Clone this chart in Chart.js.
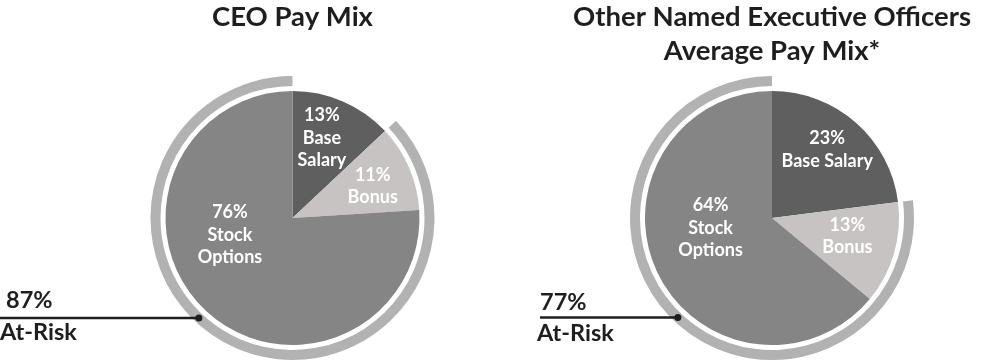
<!DOCTYPE html>
<html lang="en">
<head>
  <meta charset="UTF-8" />
  <title>Pay Mix</title>
  <script src="https://cdn.jsdelivr.net/npm/chart.js"></script>
  <style>
    html, body { margin: 0; padding: 0; background: #fff; }
    body { width: 982px; height: 362px; position: relative; overflow: hidden; }
    .box { position: absolute; top: 0; height: 362px; }
  </style>
</head>
<body>
  <div class="box" style="left:0;width:520px"><canvas id="ceoChart"></canvas></div>
  <div class="box" style="left:520px;width:462px"><canvas id="neoChart"></canvas></div>

<script>
  // data
  const categories = ['Base Salary', 'Bonus', 'Stock Options'];
  const ceoMix = [13, 11, 76];
  const neoMix = [23, 13, 64];
  const ceoLabelLines = [['Base', 'Salary'], ['Bonus'], ['Stock', 'Options']];
  const neoLabelLines = [['Base Salary'], ['Bonus'], ['Stock', 'Options']];
  const ceoTitle = 'CEO Pay Mix';
  const neoTitle = ['Other Named Executive Officers', 'Average Pay Mix*'];
  const riskText = 'At-Risk';

  const sliceColors = ['#5f5f5f', '#c6c3c2', '#858585'];
  const ringColor = '#b1b2b1';
  const inkColor = '#1e1e1e';

  // draws the slice labels and the "at-risk" callout
  const payMixLabels = {
    id: 'payMixLabels',
    afterDatasetsDraw(chart, args, opts) {
      const ctx = chart.ctx;
      const values = chart.data.datasets[2].data;
      ctx.save();
      ctx.fillStyle = '#ffffff';
      ctx.font = 'bold 18px Lato';
      ctx.textAlign = 'center';
      ctx.textBaseline = 'middle';
      chart.getDatasetMeta(2).data.forEach((arc, i) => {
        const [deg, frac] = opts.spots[i];
        const a = deg * Math.PI / 180;
        const x = arc.x + Math.sin(a) * arc.outerRadius * frac;
        const y = arc.y - Math.cos(a) * arc.outerRadius * frac;
        const lines = [values[i] + '%'].concat(opts.lines[i]);
        lines.forEach((t, j) => {
          ctx.fillText(t, x, y + (j - (lines.length - 1) / 2) * 22.5);
        });
      });

      // callout line to the ring
      const ring = chart.getDatasetMeta(0).data[1];
      const rMid = (ring.innerRadius + ring.outerRadius) / 2;
      const dy = opts.lineY - ring.y;
      const dotX = ring.x - Math.sqrt(rMid * rMid - dy * dy);
      const atRisk = chart.data.datasets[0].data[1];

      ctx.strokeStyle = inkColor;
      ctx.fillStyle = inkColor;
      ctx.lineWidth = 2.5;
      ctx.beginPath();
      ctx.moveTo(opts.lineX0, opts.lineY);
      ctx.lineTo(dotX, opts.lineY);
      ctx.stroke();
      ctx.beginPath();
      ctx.arc(dotX, opts.lineY, 3.5, 0, Math.PI * 2);
      ctx.fill();

      ctx.font = 'bold 23.5px Lato';
      ctx.textAlign = 'left';
      ctx.fillText(atRisk + '%', opts.pctX, opts.pctY);
      ctx.fillText(riskText, opts.riskX, opts.riskY);
      ctx.restore();
    }
  };

  function makeChart(id, values, title, titleGap, padLeft, labelOpts) {
    const atRisk = values[1] + values[2];
    return new Chart(document.getElementById(id), {
      type: 'pie',
      data: {
        labels: categories,
        datasets: [
          // outer ring marking the at-risk share
          { data: [values[0], atRisk], backgroundColor: ['rgba(0,0,0,0)', ringColor], weight: 10 },
          // white gap between ring and pie
          { data: [1], backgroundColor: ['rgba(0,0,0,0)'], weight: 5 },
          { data: values, backgroundColor: sliceColors, weight: 127 }
        ]
      },
      options: {
        responsive: true,
        maintainAspectRatio: false,
        animation: false,
        events: [],
        elements: { arc: { borderWidth: 0, hoverOffset: 0 } },
        layout: { padding: { left: padLeft, top: 0, right: 0, bottom: 2 } },
        plugins: {
          legend: { display: false },
          tooltip: { enabled: false },
          title: {
            display: true,
            text: title,
            color: inkColor,
            font: { family: 'Lato', size: 27.5, weight: 'bold', lineHeight: 1.236 },
            padding: { top: 0, bottom: titleGap }
          },
          payMixLabels: labelOpts
        }
      },
      plugins: [payMixLabels]
    });
  }

  makeChart('ceoChart', ceoMix, ceoTitle, 42, 65, {
    lines: ceoLabelLines,
    spots: [[20.2, 0.67], [68.3, 0.68], [254.8, 0.51]],
    lineX0: 0, lineY: 318, pctX: 6, pctY: 300, riskX: 0, riskY: 332
  });

  makeChart('neoChart', neoMix, neoTitle, 8, 42, {
    lines: neoLabelLines,
    spots: [[39, 0.69], [103.5, 0.61], [260.7, 0.49]],
    lineX0: 20, lineY: 317.5, pctX: 20, pctY: 302.5, riskX: 17, riskY: 333
  });
</script>
</body>
</html>
